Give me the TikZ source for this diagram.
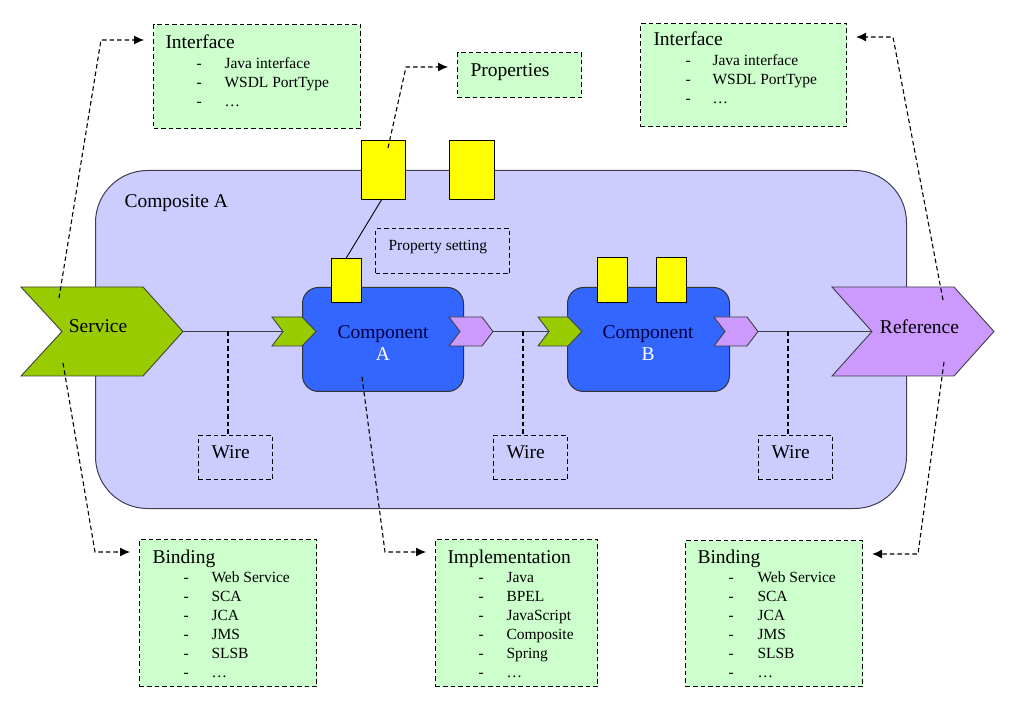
\documentclass[tikz,border=0pt]{standalone}
\usepackage{fontspec}
\setmainfont{Liberation Serif}
\usetikzlibrary{arrows.meta,calc}
\definecolor{compfill}{HTML}{CCCCFF}
\definecolor{compdraw}{HTML}{3D3D55}
\definecolor{svcgreen}{HTML}{99CC00}
\definecolor{refpurple}{HTML}{CC99FF}
\definecolor{compblue}{HTML}{3366FF}
\definecolor{propyellow}{HTML}{FFFF00}
\definecolor{notegreen}{HTML}{CCFFCC}
\definecolor{compnavy}{HTML}{000040}
\begin{document}
\begin{tikzpicture}[x=1pt,y=-1pt,line width=1pt,
  bigfont/.style={font=\fontsize{19.5}{22}\selectfont},
  smallfont/.style={font=\fontsize{15.5}{18}\selectfont},
  dsh/.style={dashed,dash pattern=on 4.5pt off 3pt,line width=1.1pt},
  notebox/.style={draw,dsh,fill=notegreen,inner sep=0pt,anchor=north west},
  plainbox/.style={draw,dsh,inner sep=0pt,anchor=north west},
  ybox/.style={draw,fill=propyellow,inner sep=0pt,anchor=north west},
  compbox/.style={draw=black!80,fill=compblue,rounded corners=16pt,inner sep=0pt,anchor=north west},
  chev/.style={draw=black!75,line width=0.9pt},
  link/.style={dsh,-{Latex[length=10pt,width=9pt]}},
  title/.style={bigfont,anchor=base west,inner sep=0pt},
  item/.style={smallfont,anchor=base west,inner sep=0pt},
  lbl/.style={bigfont,anchor=base,inner sep=0pt}]
\useasboundingbox (0,0) rectangle (1018,703);
% composite
\node[draw=compdraw,fill=compfill,rounded corners=52pt,minimum width=811pt,minimum height=338pt,inner sep=0pt,anchor=north west] (compA) at (95,170) {};
\node[title] (compAt) at (124,208) {Composite A};
% wire coordinates
\coordinate (svctip) at (183,331.5);
\coordinate (ainnotch) at (283,331.5);
\coordinate (aouttip) at (493,331.5);
\coordinate (binnotch) at (549,331.5);
\coordinate (bouttip) at (758,331.5);
\coordinate (refnotch) at (872,331.5);
\draw[black!75] (svctip) -- (ainnotch);
\draw[black!75] (aouttip) -- (binnotch);
\draw[black!75] (bouttip) -- (refnotch);
% wire boxes
\node[plainbox,minimum width=74pt,minimum height=44pt] (w1) at (198,435) {};
\node[plainbox,minimum width=74pt,minimum height=44pt] (w2) at (493,435) {};
\node[plainbox,minimum width=74pt,minimum height=44pt] (w3) at (758,435) {};
\node[title] at (211,458) {Wire};
\node[title] at (506,458) {Wire};
\node[title] at (771,458) {Wire};
\coordinate (w1a) at (228,331.5);
\coordinate (w2a) at (523,331.5);
\coordinate (w3a) at (788,331.5);
\draw[dsh] (w1a) -- (w1a |- w1.north);
\draw[dsh] (w2a) -- (w2a |- w2.north);
\draw[dsh] (w3a) -- (w3a |- w3.north);
% service and reference
\draw[chev,fill=svcgreen] (21,287) -- (143,287) -- (svctip) -- (143,376) -- (21,376) -- (62,331.5) -- cycle;
\node[lbl] (svc) at (98,333) {Service};
\draw[chev,fill=refpurple] (832,287) -- (954,287) -- (994,331.5) -- (954,376) -- (832,376) -- (refnotch) -- cycle;
\node[lbl] (ref) at (919.5,334) {Reference};
% components
\node[compbox,minimum width=161pt,minimum height=104pt] (cA) at (302,287) {};
\node[compbox,minimum width=162pt,minimum height=104pt] (cB) at (567,287) {};
\node[lbl,text=compnavy] (cAt) at (383,339) {Component};
\node[lbl,text=white] (cAl) at (383,361) {A};
\node[lbl,text=compnavy] (cBt) at (648,339) {Component};
\node[lbl,text=white] (cBl) at (648,361) {B};
% yellow properties
\node[ybox,minimum width=44pt,minimum height=59pt] (p1) at (360.5,140) {};
\node[ybox,minimum width=45pt,minimum height=59pt] (p2) at (449,140) {};
\node[ybox,minimum width=29.5pt,minimum height=44pt] (pa) at (331,258) {};
\node[ybox,minimum width=30pt,minimum height=45pt] (pb1) at (597,257) {};
\node[ybox,minimum width=30pt,minimum height=45pt] (pb2) at (655.5,257) {};
\draw[line width=0.9pt] (382,199) -- (pa.north);
% chevrons
\draw[chev,fill=svcgreen] (272,317) -- (302,317) -- (316,331.5) -- (302,346) -- (272,346) -- (ainnotch) -- cycle;
\draw[chev,fill=refpurple] (449,317) -- (482,317) -- (aouttip) -- (482,346) -- (449,346) -- (460,331.5) -- cycle;
\draw[chev,fill=svcgreen] (538,317) -- (568,317) -- (582,331.5) -- (568,346) -- (538,346) -- (binnotch) -- cycle;
\draw[chev,fill=refpurple] (714,317) -- (747,317) -- (bouttip) -- (747,346) -- (714,346) -- (725,331.5) -- cycle;
% property setting
\node[plainbox,minimum width=134pt,minimum height=45pt] (pset) at (375,228) {};
\node[item] at (388,251) {Property setting};
% properties note
\node[notebox,minimum width=124pt,minimum height=45pt] (props) at (457,52) {};
\node[title] at (470,77) {Properties};
% interface left
\node[notebox,minimum width=207pt,minimum height=104pt] (ifl) at (153,24) {};
\node[title] at (165,49) {Interface};
\foreach \t [count=\i] in {Java interface,WSDL PortType,…}{
  \node[item] at (196,49+19.3*\i) {-};
  \node[item] at (224,49+19.3*\i) {\t};}
% interface right
\node[notebox,minimum width=206pt,minimum height=103pt] (ifr) at (640,23) {};
\node[title] at (653,46) {Interface};
\foreach \t [count=\i] in {Java interface,WSDL PortType,…}{
  \node[item] at (685,46+19.3*\i) {-};
  \node[item] at (712,46+19.3*\i) {\t};}
% binding left
\node[notebox,minimum width=177pt,minimum height=147pt] (bl) at (139,539) {};
\node[title] at (152,563) {Binding};
\foreach \t [count=\i] in {Web Service,SCA,JCA,JMS,SLSB,…}{
  \node[item] at (183,563+19*\i) {-};
  \node[item] at (211,563+19*\i) {\t};}
% implementation
\node[notebox,minimum width=162pt,minimum height=147pt] (impl) at (435,539) {};
\node[title] at (447,563) {Implementation};
\foreach \t [count=\i] in {Java,BPEL,JavaScript,Composite,Spring,…}{
  \node[item] at (478,563+19*\i) {-};
  \node[item] at (506,563+19*\i) {\t};}
% binding right
\node[notebox,minimum width=177pt,minimum height=146pt] (br) at (685,540) {};
\node[title] at (697,563) {Binding};
\foreach \t [count=\i] in {Web Service,SCA,JCA,JMS,SLSB,…}{
  \node[item] at (728,563+19*\i) {-};
  \node[item] at (757,563+19*\i) {\t};}
% dashed links
\coordinate (s1) at (59,298);
\coordinate (s1c) at (101,40);
\coordinate (s2) at (63,363);
\coordinate (s2c) at (95,552);
\coordinate (a1) at (362,377);
\coordinate (a1c) at (385,552);
\coordinate (q1) at (388,148);
\coordinate (q1c) at (406,67);
\coordinate (r1) at (943,300);
\coordinate (r1c) at (893,37);
\coordinate (r2) at (944,362);
\coordinate (r2c) at (918,554);
\draw[link] (s1) -- (s1c) -- ($(ifl.west |- s1c)+(-9,0)$);
\draw[link] (s2) -- (s2c) -- ($(bl.west |- s2c)+(-9,0)$);
\draw[link] (a1) -- (a1c) -- ($(impl.west |- a1c)+(-9,0)$);
\draw[link] (q1) -- (q1c) -- ($(props.west |- q1c)+(-9,0)$);
\draw[link] (r1) -- (r1c) -- ($(ifr.east |- r1c)+(9,0)$);
\draw[link] (r2) -- (r2c) -- ($(br.east |- r2c)+(9,0)$);
\end{tikzpicture}
\end{document}
